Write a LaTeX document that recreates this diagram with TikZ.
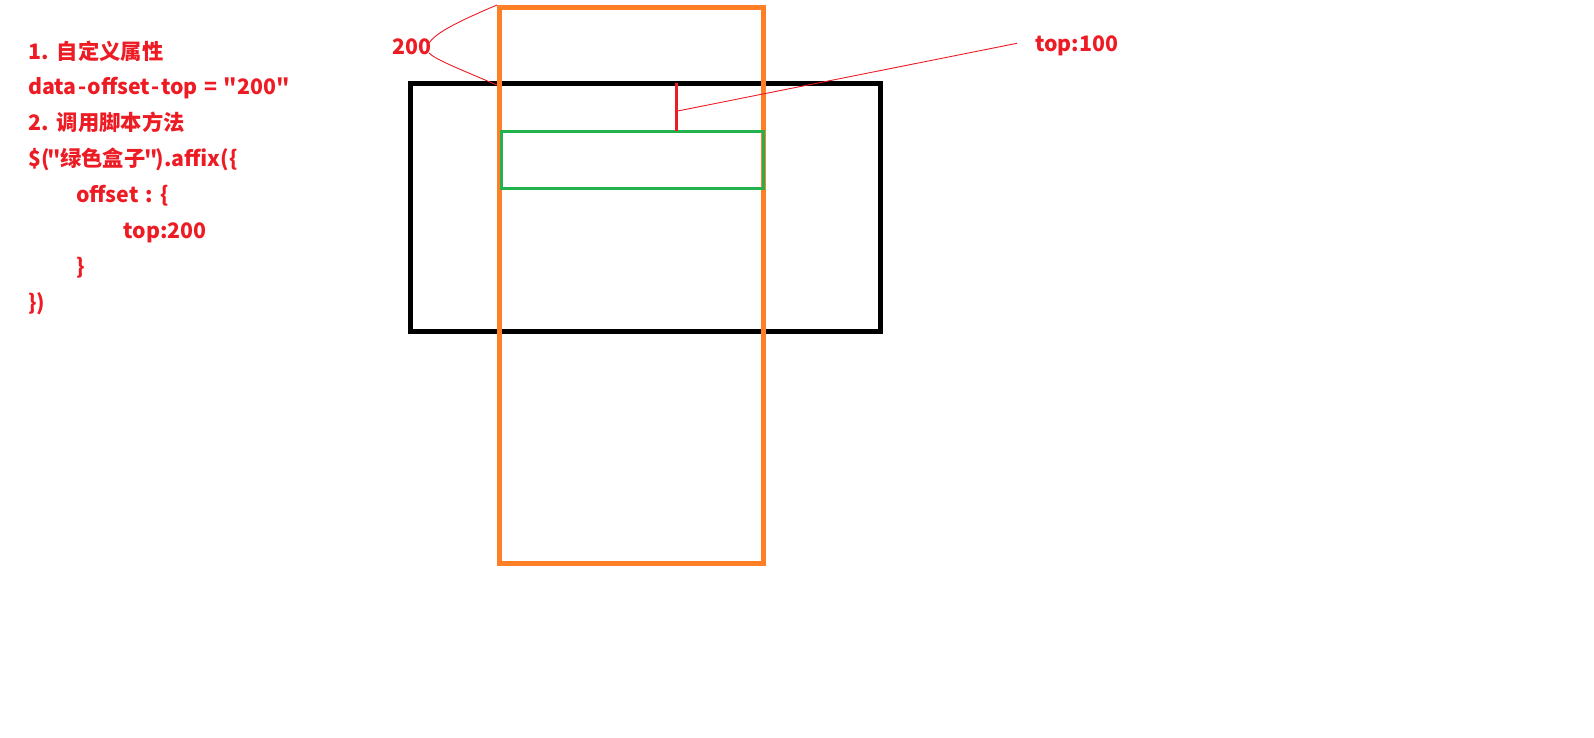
\documentclass[tikz,border=0pt]{standalone}
\usepackage{fontspec}
\newfontfamily\cjk{Noto Sans CJK SC}[WordSpace=1.35]
\usepackage{tikz}
\usetikzlibrary{positioning}
\definecolor{paintred}{HTML}{ED1C24}
\definecolor{paintorange}{HTML}{FF7F27}
\definecolor{paintgreen}{HTML}{22B14C}
\newcommand{\hy}{\kern1.5pt-\kern1.5pt}
\newcommand{\qk}{\kern-2.5pt}

\begin{document}
\begin{tikzpicture}[x=1pt, y=-1pt,
    codeline/.style={anchor=base west, inner sep=0pt, text=paintred,
      font=\cjk\fontsize{21.3}{25}\selectfont\bfseries},
    thinred/.style={draw=paintred, line width=0.9pt}]
    \useasboundingbox (0,0) rectangle (1594,737);
    % code on the left
    \node[codeline] (l1) at (28,59.3) {1. 自定义属性};
    \node[codeline] (l2) at (28,94.5) {data\hy offset\hy top = "200"};
    \node[codeline] (l3) at (28,130) {2. 调用脚本方法};
    \node[codeline] (l4) at (28,166) {\$(\qk"\kern-0.5pt 绿色盒子\kern-0.5pt"\qk).affix(\{};
    \node[codeline] (l5) at (76,202) {offset : \{};
    \node[codeline] (l6) at (123.3,238.3) {top:200};
    \node[codeline] (l7) at (76,274) {\}};
    \node[codeline] (l8) at (28,310) {\})};
    % boxes
    \draw[line width=5pt] (410.5,83.3) rectangle (880.5,331.5);
    \draw[line width=5pt, paintorange] (499.5,7) rectangle (763,563.5);
    \draw[line width=3pt, paintgreen] (501,131.3) rectangle (763.7,188);
    \draw[line width=3pt, paintred] (676.3,83.3) -- (676.3,131.3);
    % labels
    \node[codeline] (n200) at (392,54) {200};
    \node[codeline] (n100) at (1035,51.7) {top:100};
    \coordinate (tickmid) at (677.7,111);
    \coordinate (lblend) at (1017,43.3);
    \draw[thinred] (tickmid) -- (lblend);
    \coordinate (up) at (429,43);
    \coordinate (down) at (429,53);
    \draw[thinred] (up) .. controls (435,34) and (452,24) .. (497,5);
    \draw[thinred] (down) .. controls (435,59) and (452,66) .. (497,85);
\end{tikzpicture}
\end{document}
